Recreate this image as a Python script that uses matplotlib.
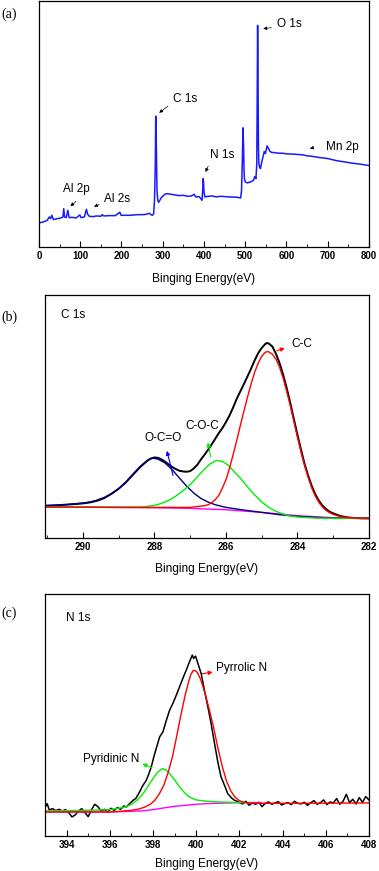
import numpy as np
import matplotlib
matplotlib.use('Agg')
import matplotlib.pyplot as plt
from matplotlib.ticker import MultipleLocator

plt.rcParams['font.family'] = ['Liberation Sans', 'DejaVu Sans']

# (a) survey spectrum
survey_ev = [0, 10, 20, 25, 28, 31, 35, 40, 50, 55, 58, 60, 62, 66, 70, 73, 80, 90, 99, 102,
             110, 115, 118, 122, 130, 140, 150, 153, 157, 170, 185, 196, 199, 220, 240, 255,
             265, 268, 271, 275, 278, 280, 282, 283, 284.5, 286, 288, 290, 293, 297, 300, 305,
             310, 320, 330, 340, 350, 360, 370, 376, 380, 388, 393, 395, 397, 398, 399, 400,
             402, 405, 420, 430, 440, 460, 480, 489, 491, 493, 494.5, 496, 497, 498, 500, 505,
             510, 515, 520, 523, 526, 528, 529, 530, 531, 532, 533, 535, 537, 540, 543, 546,
             549, 553, 556, 560, 565, 570, 580, 590, 600, 620, 640, 650, 660, 680, 700, 720,
             740, 760, 780, 790, 800]
survey_int = [72, 75, 80, 90, 85, 95, 82, 84, 86, 88, 90, 115, 90, 88, 110, 88, 89, 87, 96, 88,
              90, 113, 98, 92, 91, 93, 92, 97, 93, 94, 94, 104, 95, 95, 97, 97,
              100, 101, 97, 95, 100, 140, 250, 392, 300, 170, 140, 134, 140, 149, 152, 158,
              160, 158, 156, 154, 155, 152, 153, 158, 150, 151, 144, 140, 172, 205, 192, 165,
              150, 151, 153, 150, 152, 150, 149, 147, 170, 260, 357, 300, 230, 205, 195, 192,
              194, 196, 200, 211, 205, 250, 450, 664, 500, 300, 250, 238, 235, 255, 270, 286,
              280, 303, 296, 286, 283, 283, 281, 281, 279, 278, 276, 273, 272, 268, 265, 259,
              255, 251, 248, 246, 244]

# (b) C 1s
c1s_ev = [291.06, 290.8, 290.5, 290.2, 290.0, 289.8, 289.6, 289.4, 289.2, 289.0, 288.8, 288.6,
          288.4, 288.2, 288.1, 288.0, 287.9, 287.8, 287.7, 287.6, 287.5, 287.4, 287.3, 287.2,
          287.1, 287.0, 286.9, 286.8, 286.7, 286.6, 286.5, 286.4, 286.3, 286.2, 286.1, 286.0,
          285.9, 285.8, 285.7, 285.6, 285.5, 285.4, 285.3, 285.2, 285.1, 285.0, 284.9, 284.85,
          284.8, 284.7, 284.6, 284.5, 284.4, 284.3, 284.2, 284.1, 284.0, 283.9, 283.8, 283.7,
          283.6, 283.5, 283.4, 283.3, 283.2, 283.1, 283.0, 282.8, 282.6, 282.4, 282.2, 281.95]
c1s_raw = [97, 98, 100, 102, 104, 107, 112, 120, 133, 148, 167, 190,
           213, 232, 239, 242, 241, 236, 229, 221, 213, 207, 202, 200,
           199, 201, 209, 220, 236, 250, 265, 281, 298, 315, 330, 348,
           368, 392, 418, 440, 462, 485, 508, 533, 555, 571, 583, 586,
           584, 575, 553, 525, 490, 450, 405, 357, 310, 265, 222, 187,
           156, 131, 112, 97, 87, 79, 74, 66, 62, 60, 59, 59]
cc_ev = [291.06, 290, 289, 288, 287, 286.6, 286.5, 286.4, 286.3, 286.2, 286.1, 286.0, 285.9,
         285.8, 285.7, 285.6, 285.5, 285.4, 285.3, 285.2, 285.1, 285.0, 284.9, 284.84, 284.8,
         284.7, 284.6, 284.5, 284.4, 284.3, 284.2, 284.1, 284.0, 283.9, 283.8, 283.7, 283.6,
         283.5, 283.4, 283.3, 283.2, 283.1, 283.0, 282.8, 282.5, 281.95]
cc_int = [93, 93, 92, 92, 92, 97, 100, 106, 115, 128, 150, 175, 210,
          250, 292, 337, 380, 422, 462, 497, 525, 546, 558, 560, 559,
          552, 537, 513, 480, 440, 397, 350, 303, 258, 217, 182, 150,
          126, 107, 93, 83, 76, 71, 64, 60, 59]
coc_ev = [291.06, 289, 288.4, 288.2, 288.0, 287.8, 287.6, 287.4, 287.2, 287.0, 286.8, 286.6,
          286.45, 286.27, 286.1, 285.95, 285.8, 285.6, 285.4, 285.2, 285.0, 284.8, 284.6,
          284.4, 284.2, 284.0, 283.5, 282.5, 281.95]
coc_int = [93, 93, 93, 95, 98, 104, 113, 126, 142, 160, 184, 207,
           222, 233, 230, 220, 203, 180, 154, 130, 108, 92, 80,
           72, 66, 63, 60, 59, 59]
oco_ev = [291.06, 290.5, 290.0, 289.8, 289.6, 289.4, 289.2, 289.0, 288.8, 288.6, 288.4, 288.2,
          288.05, 287.9, 287.7, 287.5, 287.3, 287.1, 286.9, 286.7, 286.5, 286.3, 286.0, 285.5,
          285.0, 284.5, 284.0, 283.5, 283.0, 281.95]
oco_int = [97, 100, 105, 108, 114, 122, 133, 148, 168, 192, 215, 233,
           240, 237, 225, 205, 180, 156, 135, 119, 108, 100, 92, 84,
           77, 70, 65, 62, 60, 59]
cbg_ev = [291.06, 288, 287, 286, 285, 284, 283, 281.95]
cbg_int = [93, 91, 89, 85, 77, 67, 61, 59]

# (c) N 1s
n1s_ev = [393.0, 393.1, 393.2, 393.35, 393.5, 393.65, 393.8, 393.95, 394.1, 394.25, 394.4,
          394.55, 394.7, 394.85, 395.0, 395.15, 395.3, 395.45, 395.6, 395.75, 395.9, 396.05,
          396.2, 396.35, 396.5, 396.65, 396.77, 396.9, 397.08, 397.2, 397.38, 397.5, 397.69,
          397.8, 397.92, 398.05, 398.15, 398.31, 398.46, 398.62, 398.77, 398.92, 399.08,
          399.23, 399.38, 399.54, 399.69, 399.82, 399.88, 399.97, 400.08, 400.23, 400.38,
          400.54, 400.69, 400.85, 401.0, 401.15, 401.31, 401.46, 401.62, 401.77, 401.9,
          402.0, 402.15, 402.3, 402.45, 402.6, 402.75, 402.9, 403.05, 403.2, 403.35, 403.5,
          403.65, 403.8, 403.95, 404.1, 404.25, 404.4, 404.55, 404.7, 404.85, 405.0, 405.15,
          405.3, 405.45, 405.6, 405.75, 405.9, 406.05, 406.2, 406.35, 406.5, 406.65, 406.8,
          406.95, 407.1, 407.25, 407.4, 407.55, 407.7, 407.85, 408.0]
n1s_raw = [85, 97, 78, 82, 76, 80, 75, 79, 70, 57, 63,
           75, 82, 70, 58, 78, 95, 88, 75, 80, 72, 83,
           77, 85, 80, 90, 87, 96, 107, 112, 132, 148, 167,
           185, 207, 240, 262, 297, 312, 347, 377, 397, 422,
           447, 472, 497, 522, 542, 532, 539, 517, 487, 437,
           387, 337, 277, 222, 177, 152, 127, 115, 107, 104,
           100, 96, 104, 92, 99, 95, 101, 88, 98, 102, 95,
           99, 103, 93, 97, 100, 94, 104, 98, 96, 101, 92,
           99, 106, 95, 100, 108, 94, 102, 99, 112, 95, 104,
           125, 100, 110, 96, 115, 101, 118, 108]
pyrr_ev = [393, 396, 396.5, 397, 397.3, 397.6, 397.9, 398.1, 398.3, 398.5, 398.7, 398.9,
           399.1, 399.3, 399.5, 399.65, 399.75, 399.85, 399.95, 400.05, 400.2, 400.4, 400.6,
           400.8, 401.0, 401.2, 401.4, 401.6, 401.8, 402.0, 402.2, 402.5, 403, 405, 408]
pyrr_int = [72, 72, 74, 77, 80, 86, 96, 108, 127, 152, 190, 237,
            300, 365, 425, 462, 483, 495, 496, 490, 470, 430, 380,
            327, 265, 210, 165, 135, 116, 106, 101, 99, 98, 98, 99]
pyri_ev = [393, 395, 396, 396.5, 396.8, 397.0, 397.2, 397.4, 397.6, 397.8, 398.0, 398.2,
           398.43, 398.6, 398.8, 399.0, 399.2, 399.4, 399.6, 399.8, 400.0, 400.5, 401, 402,
           402.5]
pyri_int = [75, 77, 79, 84, 89, 95, 104, 116, 132, 152, 172, 190,
            202, 198, 185, 168, 150, 134, 121, 113, 108, 104, 102, 100,
            100]
nbg_ev = [393, 396, 397, 397.5, 398, 398.5, 399, 399.5, 400, 400.5, 401.5, 402, 403]
nbg_int = [72, 72, 74, 75, 79, 84, 89, 92, 95, 97, 99, 100, 100]

fig = plt.figure(figsize=(3.79, 8.71), dpi=100)
ax1 = fig.add_axes([0.1029, 0.7164, 0.8707, 0.2825])
ax2 = fig.add_axes([0.1187, 0.3823, 0.8549, 0.2790])
ax3 = fig.add_axes([0.1187, 0.0402, 0.8549, 0.2778])

for ax, lp in ((ax1, 8.5), (ax2, 7.5), (ax3, 6.0)):
    ax.tick_params(axis='x', which='both', direction='in', top=False, labelsize=7, pad=3)
    ax.tick_params(axis='x', which='major', length=4, width=0.8)
    ax.tick_params(axis='x', which='minor', length=2, width=0.6)
    ax.tick_params(axis='y', left=False, labelleft=False)
    for s in ax.spines.values():
        s.set_linewidth(0.9)
    ax.set_xlabel('Binging Energy(eV)', fontsize=8.6, labelpad=lp)

arr_k = dict(arrowstyle='-|>', color='k', lw=0.5, mutation_scale=5)

# panel a
ax1.plot(survey_ev, survey_int, color='#1a1aff', lw=1.1)
ax1.set_xlim(0, 800)
ax1.set_ylim(0, 737)
ax1.xaxis.set_major_locator(MultipleLocator(100))
ax1.xaxis.set_minor_locator(MultipleLocator(50))
for txt, tx, ty in [('Al 2p', 59, 175), ('Al 2s', 158, 143), ('C 1s', 324, 443),
                    ('N 1s', 414, 275), ('O 1s', 578, 668), ('Mn 2p', 696, 300)]:
    ax1.text(tx, ty, txt, fontsize=8.5, va='center', ha='left')
for x0, y0, x1, y1 in [(95, 142, 71, 117), (152, 130, 127, 118), (318, 427, 286, 397),
                       (413, 250, 401, 217), (570, 658, 537, 653), (673, 300, 650, 293)]:
    ax1.annotate('', xy=(x1, y1), xytext=(x0, y0), arrowprops=arr_k)

# panel b
ax2.plot(c1s_ev, c1s_raw, color='k', lw=1.4)
ax2.plot(cbg_ev, cbg_int, color='#ff00ff', lw=1.0)
ax2.plot(oco_ev, oco_int, color='#000080', lw=1.0)
ax2.plot(coc_ev, coc_int, color='#00ee00', lw=1.0)
ax2.plot(cc_ev, cc_int, color='#ff0000', lw=1.0)
ax2.set_xlim(291.06, 282)
ax2.set_ylim(0, 730)
ax2.xaxis.set_major_locator(MultipleLocator(2))
ax2.xaxis.set_minor_locator(MultipleLocator(1))
ax2.text(0.05, 0.918, 'C 1s', transform=ax2.transAxes, fontsize=8.5, va='center')
ax2.text(288.29, 300, 'O-C=O', fontsize=8.5, va='center')
ax2.text(287.14, 337, 'C-O-C', fontsize=8.5, va='center')
ax2.text(284.17, 583, 'C-C', fontsize=8.5, va='center')
ax2.annotate('', xy=(287.67, 270), xytext=(287.46, 180),
             arrowprops=dict(arrowstyle='-|>', color='#0000ff', lw=0.8, mutation_scale=6))
ax2.annotate('', xy=(286.52, 295), xytext=(286.41, 235),
             arrowprops=dict(arrowstyle='-|>', color='#00ee00', lw=0.8, mutation_scale=6))
ax2.annotate('', xy=(284.28, 573), xytext=(284.65, 560),
             arrowprops=dict(arrowstyle='-|>', color='#ff0000', lw=0.8, mutation_scale=6))

# panel c
ax3.plot(n1s_ev, n1s_raw, color='k', lw=1.1)
ax3.plot(nbg_ev, nbg_int, color='#ff00ff', lw=1.0)
ax3.plot(pyri_ev, pyri_int, color='#00ee00', lw=1.0)
ax3.plot(pyrr_ev, pyrr_int, color='#ff0000', lw=1.0)
ax3.set_xlim(393, 408)
ax3.set_ylim(0, 725)
ax3.xaxis.set_major_locator(MultipleLocator(2))
ax3.xaxis.set_minor_locator(MultipleLocator(1))
ax3.text(0.064, 0.9, 'N 1s', transform=ax3.transAxes, fontsize=8.5, va='center')
ax3.text(394.74, 230, 'Pyridinic N', fontsize=8.5, va='center')
ax3.text(400.92, 502, 'Pyrrolic N', fontsize=8.5, va='center')
ax3.annotate('', xy=(397.38, 219), xytext=(398.08, 202),
             arrowprops=dict(arrowstyle='-|>', color='#00ee00', lw=0.8, mutation_scale=6))
ax3.annotate('', xy=(400.89, 492), xytext=(400.15, 485),
             arrowprops=dict(arrowstyle='-|>', color='#ff0000', lw=0.8, mutation_scale=6))

for lab, yy in [('(a)', 0.984), ('(b)', 0.636), ('(c)', 0.296)]:
    fig.text(0.003, yy, lab, fontsize=10, family=['Liberation Serif', 'DejaVu Serif'],
             va='center', ha='left')

for ax in (ax1, ax2, ax3):
    for lab in ax.get_xticklabels():
        lab.set_fontweight('bold')

fig.savefig('out.png', dpi=100)
